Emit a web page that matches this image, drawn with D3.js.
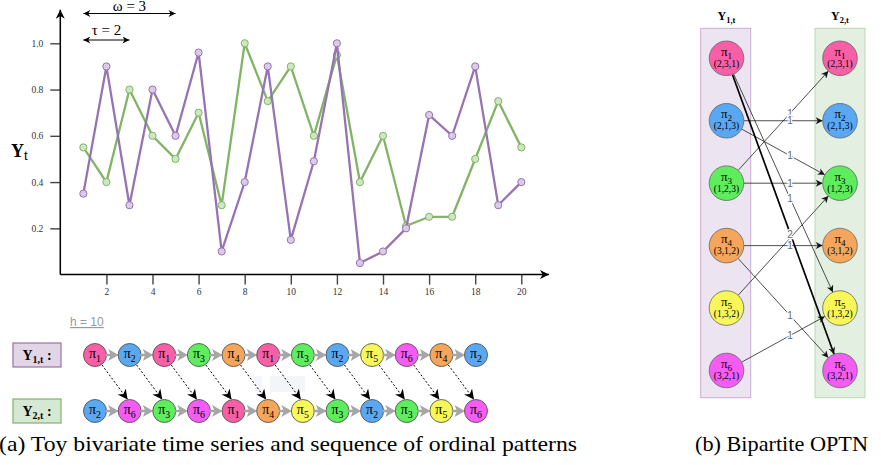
<!DOCTYPE html>
<html>
<head>
<meta charset="utf-8">
<script src="https://cdn.jsdelivr.net/npm/d3@7"></script>
<style>
body { margin: 0; background: #fff; }
svg { display: block; }
</style>
</head>
<body>
<svg width="881" height="465" font-family="Liberation Serif, DejaVu Serif, serif"></svg>
<script>
// values
var timeIdx = [1, 2, 3, 4, 5, 6, 7, 8, 9, 10, 11, 12, 13, 14, 15, 16, 17, 18, 19, 20];
var seriesY1 = [0.35, 0.9, 0.3, 0.8, 0.6, 0.96, 0.1, 0.4, 0.9, 0.15, 0.49, 1.0, 0.05, 0.1, 0.2, 0.69, 0.6, 0.9, 0.3, 0.4];
var seriesY2 = [0.55, 0.4, 0.8, 0.6, 0.5, 0.7, 0.3, 1.0, 0.75, 0.9, 0.6, 0.95, 0.4, 0.6, 0.21, 0.25, 0.25, 0.5, 0.75, 0.55];
var xTicks = [2, 4, 6, 8, 10, 12, 14, 16, 18, 20];
var yTicks = [0.2, 0.4, 0.6, 0.8, 1.0];
var seqY1 = [1, 2, 1, 3, 4, 1, 3, 2, 5, 6, 4, 2];
var seqY2 = [2, 6, 3, 6, 1, 4, 5, 3, 2, 3, 5, 6];
var patternIds = [1, 2, 3, 4, 5, 6];
var patternRanks = ["(2,3,1)", "(2,1,3)", "(1,2,3)", "(3,1,2)", "(1,3,2)", "(3,2,1)"];
var patternColors = ["#f85fa6", "#5aa8f2", "#5ded5d", "#f5a65b", "#f7f75b", "#f45cf4"];

var purple = "#9673b4", green = "#82b466";
var sans = "Liberation Sans, DejaVu Sans, sans-serif";

var svg = d3.select("svg");
var defs = svg.append("defs");

function marker(id, w, h, color) {
	defs.append("marker")
		.attr("id", id)
		.attr("markerUnits", "userSpaceOnUse")
		.attr("viewBox", "0 0 10 10")
		.attr("refX", 10).attr("refY", 5)
		.attr("markerWidth", w).attr("markerHeight", h)
		.attr("orient", "auto-start-reverse")
		.append("path")
		.attr("d", "M0,0 L10,5 L0,10 L3,5 Z")
		.attr("fill", color);
}
marker("axisHead", 10, 9, "#000");
marker("dimHead", 8, 7, "#000");
marker("dashHead", 10, 10, "#000");
marker("edgeHead", 8, 7, "#111");

// ---------- (a) time series ----------
var x = d3.scaleLinear().domain([0, 20]).range([60.3, 521.3]);
var y = d3.scaleLinear().domain([0, 1]).range([274.6, 43.3]);

var g = svg.append("g");

function styleAxis(a) {
	a.attr("font-family", null).attr("font-size", null);
	a.select(".domain").remove();
	a.selectAll("line").attr("stroke", "#444").attr("stroke-width", 1.4);
	a.selectAll("text").attr("font-size", 9.5).attr("fill", "#333");
}

g.append("g")
	.attr("transform", "translate(" + x(0) + ",0)")
	.call(d3.axisLeft(y).tickValues(yTicks).tickSize(10).tickPadding(7).tickFormat(d3.format(".1f")))
	.call(styleAxis);

g.append("g")
	.attr("transform", "translate(0," + y(0) + ")")
	.call(d3.axisBottom(x).tickValues(xTicks).tickSize(10).tickPadding(4))
	.call(styleAxis);

g.append("line")
	.attr("x1", x(0)).attr("y1", y(0)).attr("x2", x(0)).attr("y2", y(1.145))
	.attr("stroke", "#000").attr("stroke-width", 1.5).attr("marker-end", "url(#axisHead)");
g.append("line")
	.attr("x1", x(0)).attr("y1", y(0)).attr("x2", x(21.2)).attr("y2", y(0))
	.attr("stroke", "#000").attr("stroke-width", 1.5).attr("marker-end", "url(#axisHead)");

var yl = g.append("text").attr("x", 11).attr("y", 157);
yl.append("tspan").attr("font-weight", "bold").attr("font-size", 18).text("Y");
yl.append("tspan").attr("font-family", sans).attr("font-size", 13).attr("dy", 3).text("t");

var line = d3.line().x(function(d, i) { return x(timeIdx[i]); }).y(function(d) { return y(d); });

[[seriesY2, green, "#cfe6c5"], [seriesY1, purple, "#dccbe6"]].forEach(function(s) {
	g.append("path").datum(s[0])
		.attr("d", line)
		.attr("fill", "none").attr("stroke", s[1]).attr("stroke-width", 2.3);
	g.selectAll(null).data(s[0]).enter().append("circle")
		.attr("cx", function(d, i) { return x(timeIdx[i]); })
		.attr("cy", function(d) { return y(d); })
		.attr("r", 3.6)
		.attr("fill", s[2]).attr("stroke", s[1]).attr("stroke-width", 1);
});

// omega / tau spans
function dimArrow(t0, t1, yy, label, ty) {
	g.append("line")
		.attr("x1", x(t0)).attr("x2", x(t1)).attr("y1", yy).attr("y2", yy)
		.attr("stroke", "#000").attr("stroke-width", 1)
		.attr("marker-start", "url(#dimHead)").attr("marker-end", "url(#dimHead)");
	g.append("text").attr("x", (x(t0) + x(t1)) / 2).attr("y", ty)
		.attr("text-anchor", "middle").attr("font-size", 15).text(label);
}
dimArrow(1, 5, 13.5, "ω = 3", 10.5);
dimArrow(1, 3, 40, "τ = 2", 34.5);

// ---------- sequences of ordinal patterns ----------
var seqX = d3.scaleLinear().domain([0, 11]).range([95, 476]);
var rowY = [355, 411], cr = 11.5;

svg.append("rect").attr("x", 255).attr("y", 376).attr("width", 7).attr("height", 16).attr("fill", "#f4f5fa");
svg.append("rect").attr("x", 270).attr("y", 376).attr("width", 35).attr("height", 16).attr("fill", "#f4f5fa");

svg.append("text").attr("x", 70).attr("y", 326)
	.attr("font-family", sans).attr("font-size", 12)
	.attr("fill", "#999").attr("text-decoration", "underline").text("h = 10");

function piLabel(sel, k, cx, cy, size) {
	var t = sel.append("text").attr("x", cx).attr("y", cy).attr("text-anchor", "middle");
	t.append("tspan").attr("font-size", size).text("π");
	t.append("tspan").attr("font-size", size * 0.7).attr("dy", size * 0.25).text(k);
	return t;
}

[[seqY1, rowY[0], "#e1d5e7", "#9673a6", "1,t"], [seqY2, rowY[1], "#d5e8d4", "#82b366", "2,t"]].forEach(function(r) {
	var row = svg.append("g");
	row.append("rect").attr("x", 13).attr("y", r[1] - 12).attr("width", 48).attr("height", 24)
		.attr("fill", r[2]).attr("stroke", r[3]).attr("stroke-width", 1.2);
	var lt = row.append("text").attr("x", 37).attr("y", r[1] + 4.5).attr("text-anchor", "middle").attr("font-weight", "bold");
	lt.append("tspan").attr("font-size", 14).text("Y");
	lt.append("tspan").attr("font-size", 10).attr("dy", 3).text(r[4]);
	lt.append("tspan").attr("font-size", 14).attr("dy", -3).text(" :");

	r[0].forEach(function(p, i) {
		if (i > 0) {
			var x0 = seqX(i - 1) + cr, x1 = seqX(i) - cr;
			row.append("path")
				.attr("d", "M" + (x0 - 1) + "," + (r[1] - 1.2) + "L" + (x1 - 8) + "," + (r[1] - 1.2) +
					"L" + (x1 - 10) + "," + (r[1] - 6) + "L" + (x1 + 0.5) + "," + r[1] +
					"L" + (x1 - 10) + "," + (r[1] + 6) + "L" + (x1 - 8) + "," + (r[1] + 1.2) +
					"L" + (x0 - 1) + "," + (r[1] + 1.2) + "Z")
				.attr("fill", "#a6a6a6");
		}
		row.append("circle").attr("cx", seqX(i)).attr("cy", r[1]).attr("r", cr)
			.attr("fill", patternColors[p - 1]).attr("stroke", "#555").attr("stroke-width", 0.9);
		piLabel(row, p, seqX(i), r[1] + 3, 14);
	});
});

// dashed links Y1[i] -> Y2[i+1]
seqY1.slice(0, seqY1.length - 1).forEach(function(p, i) {
	svg.append("line")
		.attr("x1", seqX(i) + 7).attr("y1", rowY[0] + 10)
		.attr("x2", seqX(i + 1) - 2).attr("y2", rowY[1] - 11.5)
		.attr("stroke", "#000").attr("stroke-width", 1).attr("stroke-dasharray", "2,2")
		.attr("marker-end", "url(#dashHead)");
});

svg.append("text").attr("x", -1).attr("y", 451).attr("font-size", 21)
	.attr("textLength", 578).attr("lengthAdjust", "spacingAndGlyphs")
	.text("(a) Toy bivariate time series and sequence of ordinal patterns");

// ---------- (b) bipartite OPTN ----------
var colX = [726.5, 840], nr = 17.3;
var ny = d3.scalePoint().domain(patternIds).range([58.3, 370.5]);

svg.append("rect").attr("x", 700.7).attr("y", 28.3).attr("width", 50).attr("height", 369.4)
	.attr("fill", "#ede4f1").attr("stroke", "#c6b0d2").attr("stroke-width", 1);
svg.append("rect").attr("x", 815).attr("y", 28.3).attr("width", 50).attr("height", 369.4)
	.attr("fill", "#e3efe1").attr("stroke", "#bcd7b4").attr("stroke-width", 1);

["1,t", "2,t"].forEach(function(s, j) {
	var t = svg.append("text").attr("x", colX[j]).attr("y", 20).attr("text-anchor", "middle").attr("font-weight", "bold");
	t.append("tspan").attr("font-size", 12).text("Y");
	t.append("tspan").attr("font-size", 8.5).attr("dy", 2.5).text(s);
});

// transition counts
var counts = d3.rollup(seqY1.slice(0, seqY1.length - 1).map(function(p, i) { return [p, seqY2[i + 1]]; }),
	function(v) { return v.length; }, function(d) { return d[0] + "-" + d[1]; });
var edges = Array.from(counts, function(e) {
	var k = e[0].split("-");
	return { from: +k[0], to: +k[1], w: e[1] };
}).sort(function(a, b) { return a.w - b.w; });

var eg = svg.append("g");
edges.forEach(function(e) {
	var x1 = colX[0], y1 = ny(e.from), x2 = colX[1], y2 = ny(e.to);
	var dx = x2 - x1, dy = y2 - y1, L = Math.sqrt(dx * dx + dy * dy);
	var ux = dx / L, uy = dy / L;
	eg.append("line")
		.attr("x1", x1 + ux * nr).attr("y1", y1 + uy * nr)
		.attr("x2", x2 - ux * nr).attr("y2", y2 - uy * nr)
		.attr("stroke", e.w > 1 ? "#000" : "#222").attr("stroke-width", e.w > 1 ? 1.7 : 0.8)
		.attr("marker-end", "url(#edgeHead)");
});

// labels sit where each edge crosses x = 790; a heavier label hides a lighter one under it
var f = (790 - colX[0]) / (colX[1] - colX[0]);
edges.forEach(function(e) { e.ly = ny(e.from) + f * (ny(e.to) - ny(e.from)); });
edges.filter(function(e) {
	return !edges.some(function(o) { return o.w > e.w && Math.abs(o.ly - e.ly) < 6; });
}).forEach(function(e) {
	var ly = e.w > 1 ? e.ly + 2 : e.ly;
	eg.append("text").attr("x", 790).attr("y", ly + 3.5).attr("text-anchor", "middle")
		.attr("font-family", sans).attr("font-size", 10)
		.attr("fill", "#666").attr("stroke", "#fff").attr("stroke-width", 2.5)
		.attr("paint-order", "stroke").text(e.w);
});

colX.forEach(function(cx) {
	patternIds.forEach(function(p, i) {
		svg.append("circle").attr("cx", cx).attr("cy", ny(p)).attr("r", nr)
			.attr("fill", patternColors[i]).attr("stroke", "#666").attr("stroke-width", 0.8);
		piLabel(svg, p, cx, ny(p) - 2.5, 13);
		svg.append("text").attr("x", cx).attr("y", ny(p) + 8.5).attr("text-anchor", "middle")
			.attr("font-size", 9.5).text(patternRanks[i]);
	});
});

svg.append("text").attr("x", 695).attr("y", 451).attr("font-size", 21)
	.attr("textLength", 173).attr("lengthAdjust", "spacingAndGlyphs").text("(b) Bipartite OPTN");
</script>
</body>
</html>
